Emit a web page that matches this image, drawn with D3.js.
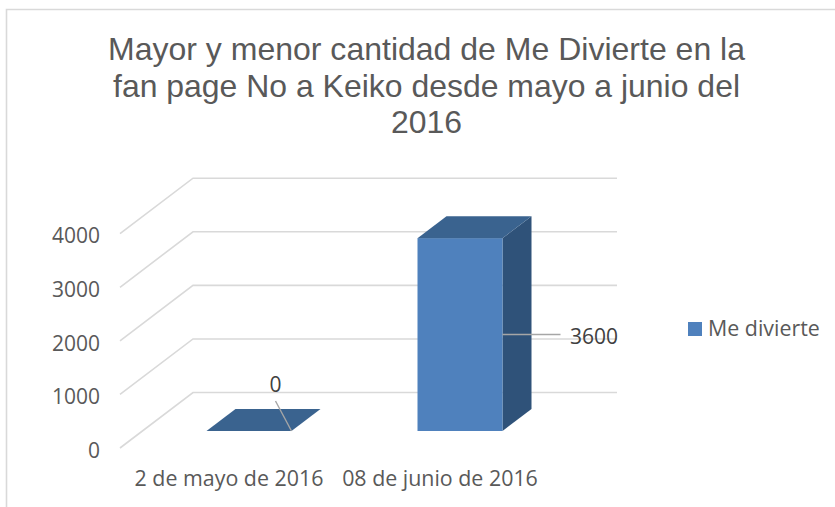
<!DOCTYPE html>
<html><head><meta charset="utf-8">
<script src="https://cdn.jsdelivr.net/npm/d3@7/dist/d3.min.js"></script>
<style>html,body{margin:0;padding:0;background:#fff}svg{display:block}</style>
</head><body><svg id="c" width="835" height="507"></svg>
<script>
const categories=["2 de mayo de 2016","08 de junio de 2016"];
const values=[0,3600];
const yTicks=[0,1000,2000,3000,4000];
const seriesName="Me divierte";
const titleLines=["Mayor y menor cantidad de Me Divierte en la","fan page No a Keiko desde mayo a junio del","2016"];

const svg=d3.select("#c");
const font="'Open Sans',sans-serif";
const y=d3.scaleLinear().domain([0,4000]).range([448,233.7]);
const x=d3.scaleBand().domain(categories).range([123.5,545.5]);
const wall={dx:73,dy:-55.5,w:424,left:120};
const depth={dx:29,dy:-22,w:85,shift:20,floor:17};

// frame
svg.append("path").attr("d","M6.5,507V9.5H835").attr("fill","none").attr("stroke","#d9d9d9").attr("stroke-width",1.6);

// title
const tw=[637,627,71];
svg.append("g").selectAll("text").data(titleLines).join("text")
 .attr("x",426.5).attr("y",(d,i)=>60+i*36.5)
 .attr("text-anchor","middle").attr("font-family","'Liberation Sans',Arial,sans-serif")
 .attr("font-size",32).attr("fill","#595959")
 .attr("textLength",(d,i)=>tw[i]).attr("lengthAdjust","spacingAndGlyphs").text(d=>d);

// gridlines on floor side + back wall
const grid=svg.append("g").attr("fill","none").attr("stroke","#d9d9d9").attr("stroke-width",1.6);
grid.selectAll("path").data(yTicks).join("path")
 .attr("d",d=>`M${wall.left},${y(d)}l${wall.dx},${wall.dy}h${wall.w}`);

// y tick labels through the axis
const ax=svg.append("g").attr("transform","translate(100,0)")
 .call(d3.axisLeft(y).tickValues(yTicks).tickSize(0).tickPadding(0).tickFormat(d3.format("d")));
ax.select(".domain").remove();
ax.selectAll("text").attr("font-family",font).attr("font-size",21).attr("fill","#595959").attr("text-anchor","end").attr("x",0).attr("dy","0.44em");

// bars
const bars=svg.append("g").selectAll("g").data(categories.map((c,i)=>({c,v:values[i]}))).join("g");
const bx=d=>x(d.c)+x.bandwidth()/2+depth.shift-depth.w/2;
const by0=y(0)-depth.floor;
const byT=d=>y(d.v)-depth.floor;
bars.filter(d=>d.v>0).append("path").attr("fill","#2f5279")
 .attr("d",d=>`M${bx(d)+depth.w},${by0}V${byT(d)}l${depth.dx},${depth.dy}V${by0+depth.dy}Z`);
bars.filter(d=>d.v>0).append("rect").attr("fill","#4f81bd")
 .attr("x",bx).attr("y",byT).attr("width",depth.w).attr("height",d=>by0-byT(d));
bars.append("path").attr("fill","#3a638f")
 .attr("d",d=>`M${bx(d)},${byT(d)}l${depth.dx},${depth.dy}h${depth.w}l${-depth.dx},${-depth.dy}Z`);

// data label leaders + labels
const anchors=[d=>[bx(d)+depth.w,by0],d=>[bx(d)+depth.w,(byT(d)+by0)/2]];
bars.each(function(d,i){
 const g=d3.select(this),[ax0,ay0]=anchors[i](d);
 g.append("path").attr("d",`M${ax0},${ay0}l${i?58:-16},${i?0:-30}`)
  .attr("fill","none").attr("stroke","#a6a6a6").attr("stroke-width",1.4);
 g.append("text").attr("x",i?ax0+67.5:ax0-16).attr("y",i?ay0+9.5:ay0-39)
  .attr("text-anchor",i?"start":"middle").attr("font-family",font).attr("font-size",21)
  .attr("fill","#404040").text(d.v);
});

// category labels
svg.append("g").selectAll("text").data(categories).join("text")
 .attr("x",d=>x(d)+x.bandwidth()/2).attr("y",486).attr("text-anchor","middle")
 .attr("font-family",font).attr("font-size",21.4).attr("fill","#595959").text(d=>d);

// legend
svg.append("rect").attr("x",688).attr("y",322).attr("width",14).attr("height",14).attr("fill","#4f81bd");
svg.append("text").attr("x",708).attr("y",336).attr("font-family",font).attr("font-size",21.4)
 .attr("fill","#595959").text(seriesName);
</script></body></html>
